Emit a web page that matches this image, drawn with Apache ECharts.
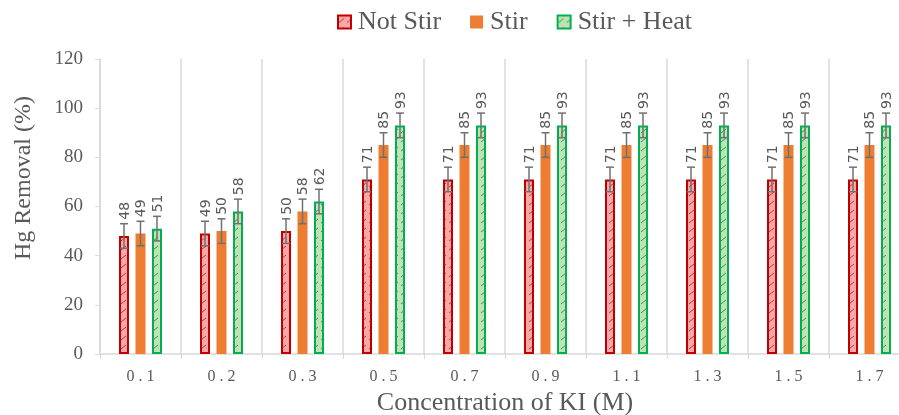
<!DOCTYPE html>
<html><head><meta charset="utf-8">
<script src="https://cdn.jsdelivr.net/npm/echarts@6/dist/echarts.min.js"></script>
<style>html,body{margin:0;padding:0;background:#fff}#c{width:899px;height:415px}</style>
</head><body><div id="c"></div>
<script>
var categories = ['0.1','0.2','0.3','0.5','0.7','0.9','1.1','1.3','1.5','1.7'];
var notStir   = [48,49,50,71,71,71,71,71,71,71];
var stir      = [49,50,58,85,85,85,85,85,85,85];
var stirHeat  = [51,58,62,93,93,93,93,93,93,93];
var errNotStir  = [5,5,5,5,5,5,5,5,5,5];
var errStir     = [5,5,5,5,5,5,5,5,5,5];
var errStirHeat = [5,5,5,5,5,5,5,5,5,5];
var seriesNames = ['Not Stir','Stir','Stir + Heat'];
var yTicks = [0,20,40,60,80,100,120];

function hatch(bg, fg){
  var c = document.createElement('canvas'); c.width = 8; c.height = 9;
  var g = c.getContext('2d');
  g.fillStyle = bg; g.fillRect(0,0,8,9);
  g.strokeStyle = fg; g.lineWidth = 0.9;
  g.beginPath(); g.moveTo(1,7); g.lineTo(6,3); g.stroke();
  return {image: c, repeat: 'repeat'};
}

var BW = 10, STEP = 16.5;
var chart = echarts.init(document.getElementById('c'));
var serif = 'Liberation Serif';
var grey = '#595959';

function errSeries(vals, errs, idx){
  var data = vals.map(function(v,i){ return [i, v, errs[i]]; });
  return {
    type: 'custom', name: seriesNames[idx] + ' err', z: 10, silent: true,
    data: data, encode: {x: 0, y: 1},
    renderItem: function(params, api){
      var i = api.value(0), v = api.value(1), e = api.value(2);
      var off = (idx - 1) * STEP;
      var top = api.coord([i, v + e]), bot = api.coord([i, v - e]);
      var x = top[0] + off;
      var st = {stroke: '#707070', lineWidth: 1.5};
      return {type: 'group', children: [
        {type: 'line', shape: {x1: x, y1: top[1], x2: x, y2: bot[1]}, style: st},
        {type: 'line', shape: {x1: x - 4, y1: top[1], x2: x + 4, y2: top[1]}, style: st},
        {type: 'line', shape: {x1: x - 4, y1: bot[1], x2: x + 4, y2: bot[1]}, style: st},
        {type: 'text', x: x + 1, y: top[1] - 4, rotation: Math.PI / 2,
         style: {text: String(v), x: 0, y: 0, align: 'left', verticalAlign: 'middle', fill: grey, font: '14px "DejaVu Sans"'}}
      ]};
    }
  };
}

chart.setOption({
  animation: false,
  legend: {
    top: 9, left: 337, padding: 0, itemWidth: 13, itemHeight: 13, itemGap: 29, icon: 'rect',
    data: seriesNames,
    textStyle: {fontFamily: serif, fontSize: 26, color: grey, padding: [0,0,0,2]}
  },
  graphic: [{
    type: 'text', x: 24, y: 178, rotation: Math.PI / 2,
    style: {text: 'Hg Removal (%)', x: 0, y: 0, align: 'center', verticalAlign: 'middle',
            fill: grey, font: '24px "Liberation Serif"'}
  }],
  grid: {left: 100, width: 810, top: 59, height: 295, outerBoundsMode: 'none', containLabel: false},
  xAxis: {
    type: 'category', data: categories,
    name: 'Concentration of KI (M)', nameLocation: 'middle', nameGap: 35,
    nameTextStyle: {fontFamily: serif, fontSize: 26, color: grey},
    axisLine: {lineStyle: {color: '#d9d9d9', width: 1.5}},
    axisTick: {show: true, length: 5, lineStyle: {color: '#d9d9d9'}},
    splitLine: {show: true, lineStyle: {color: '#d9d9d9', width: 1.5}},
    axisLabel: {fontFamily: serif, fontSize: 16, color: grey, margin: 15,
      formatter: function(v){ return v.split('').join(' '); }}
  },
  yAxis: {
    type: 'value', min: 0, max: 120, interval: 20,
    axisLine: {show: true, lineStyle: {color: '#d9d9d9', width: 1.5}},
    axisTick: {show: true, length: 5, lineStyle: {color: '#d9d9d9'}},
    splitLine: {show: false},
    axisLabel: {fontFamily: serif, fontSize: 19, color: grey, margin: 17,
      formatter: function(v){ return yTicks.indexOf(v) >= 0 ? String(v) : ''; }}
  },
  series: [
    {type: 'bar', name: seriesNames[0], data: notStir, barWidth: BW, barGap: '65%',
     itemStyle: {color: hatch('#f7a9a9', '#d02020'), borderColor: '#c00000', borderWidth: 2}},
    {type: 'bar', name: seriesNames[1], data: stir, barWidth: BW, barGap: '65%',
     itemStyle: {color: '#ed7d31'}},
    {type: 'bar', name: seriesNames[2], data: stirHeat, barWidth: BW, barGap: '65%',
     itemStyle: {color: hatch('#c5e0b4', '#00a040'), borderColor: '#00b050', borderWidth: 2}},
    errSeries(notStir, errNotStir, 0),
    errSeries(stir, errStir, 1),
    errSeries(stirHeat, errStirHeat, 2)
  ]
});
</script></body></html>
